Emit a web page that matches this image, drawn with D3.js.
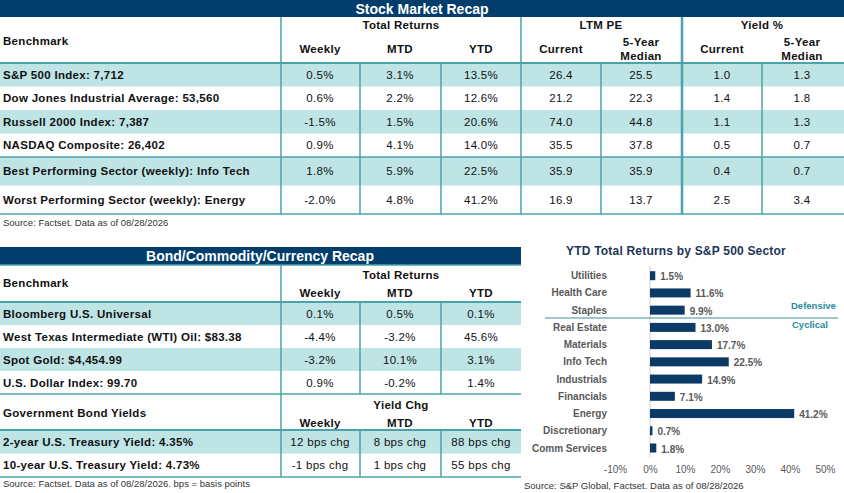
<!DOCTYPE html>
<html>
<head>
<meta charset="utf-8">
<script src="https://cdn.jsdelivr.net/npm/d3@7/dist/d3.min.js"></script>
<style>
  html, body { margin: 0; padding: 0; background: #fff; }
  svg { display: block; font-family: "Liberation Sans", Arial, sans-serif; }
</style>
</head>
<body>
<div id="chart"></div>
<script>
// ---- data: stock market recap ----
const stockNames = [
  "S&P 500 Index: 7,712",
  "Dow Jones Industrial Average: 53,560",
  "Russell 2000 Index: 7,387",
  "NASDAQ Composite: 26,402",
  "Best Performing Sector (weekly): Info Tech",
  "Worst Performing Sector (weekly): Energy"
];
const stockWeekly = ["0.5%", "0.6%", "-1.5%", "0.9%", "1.8%", "-2.0%"];
const stockMTD = ["3.1%", "2.2%", "1.5%", "4.1%", "5.9%", "4.8%"];
const stockYTD = ["13.5%", "12.6%", "20.6%", "14.0%", "22.5%", "41.2%"];
const peCurrent = ["26.4", "21.2", "74.0", "35.5", "35.9", "16.9"];
const peMedian = ["25.5", "22.3", "44.8", "37.8", "35.9", "13.7"];
const yieldCurrent = ["1.0", "1.4", "1.1", "0.5", "0.4", "2.5"];
const yieldMedian = ["1.3", "1.8", "1.3", "0.7", "0.7", "3.4"];

// ---- data: bond / commodity / currency ----
const bondNames = [
  "Bloomberg U.S. Universal",
  "West Texas Intermediate (WTI) Oil: $83.38",
  "Spot Gold: $4,454.99",
  "U.S. Dollar Index: 99.70"
];
const bondWeekly = ["0.1%", "-4.4%", "-3.2%", "0.9%"];
const bondMTD = ["0.5%", "-3.2%", "10.1%", "-0.2%"];
const bondYTD = ["0.1%", "45.6%", "3.1%", "1.4%"];

const govNames = ["2-year U.S. Treasury Yield: 4.35%", "10-year U.S. Treasury Yield: 4.73%"];
const govWeekly = ["12 bps chg", "-1 bps chg"];
const govMTD = ["8 bps chg", "1 bps chg"];
const govYTD = ["88 bps chg", "55 bps chg"];

// ---- data: sector bar chart ----
const sectors = ["Utilities", "Health Care", "Staples", "Real Estate", "Materials", "Info Tech",
  "Industrials", "Financials", "Energy", "Discretionary", "Comm Services"];
const sectorYTD = [1.5, 11.6, 9.9, 13.0, 17.7, 22.5, 14.9, 7.1, 41.2, 0.7, 1.8];
const axisTicks = [-10, 0, 10, 20, 30, 40, 50];

// ---- styles ----
const NAVY = "#023d6b";
const SHADE = "#bee4e6";
const TEAL = "#4aa3aa";
const TXT = "#111";
const LS = 0.3; // Excel-like loose letter spacing

const W = 844, H = 493;
const svg = d3.select("#chart").append("svg").attr("width", W).attr("height", H);

function hline(g, x1, x2, y, w) {
  g.append("line").attr("x1", x1).attr("x2", x2).attr("y1", y).attr("y2", y)
    .attr("stroke", TEAL).attr("stroke-width", w || 1);
}
function vline(g, x, y1, y2, w) {
  g.append("line").attr("x1", x).attr("x2", x).attr("y1", y1).attr("y2", y2)
    .attr("stroke", TEAL).attr("stroke-width", w || 1);
}
function txt(g, x, y, s, opt) {
  opt = opt || {};
  return g.append("text").attr("x", x).attr("y", y)
    .attr("dy", "0.35em")
    .attr("text-anchor", opt.anchor || "middle")
    .attr("font-size", opt.size || 11.5)
    .attr("font-weight", opt.bold ? "bold" : "normal")
    .attr("letter-spacing", opt.ls != null ? opt.ls : LS)
    .attr("fill", opt.fill || TXT)
    .text(s);
}

// draws data rows: names + value columns, rows laid out by a band scale
function drawRows(g, names, cols, colX, y0, y1, rowW) {
  const y = d3.scaleBand().domain(d3.range(names.length)).range([y0, y1]);
  g.selectAll(null).data(names).join("rect")
    .attr("x", 0).attr("width", rowW)
    .attr("y", (d, i) => y(i)).attr("height", y.bandwidth())
    .attr("fill", (d, i) => i % 2 === 0 ? SHADE : "none");
  g.selectAll(null).data(names).join("text")
    .attr("x", 3).attr("y", (d, i) => y(i) + y.bandwidth() / 2).attr("dy", "0.35em")
    .attr("font-size", 11.5).attr("font-weight", "bold").attr("fill", TXT)
    .attr("letter-spacing", LS)
    .text(d => d);
  cols.forEach((col, c) => {
    g.selectAll(null).data(col).join("text")
      .attr("x", colX[c]).attr("y", (d, i) => y(i) + y.bandwidth() / 2).attr("dy", "0.35em")
      .attr("text-anchor", "middle").attr("font-size", 11.5).attr("fill", TXT)
      .attr("letter-spacing", LS)
      .text(d => d);
  });
  return y;
}

// ================= Stock Market Recap =================
const stockG = svg.append("g");
const tableW = 844;
stockG.append("rect").attr("x", 0).attr("y", 0).attr("width", tableW).attr("height", 17).attr("fill", NAVY);
txt(stockG, 422, 9, "Stock Market Recap", { size: 14, bold: true, fill: "#fff", ls: 0 });

txt(stockG, 3, 41, "Benchmark", { anchor: "start", bold: true });
txt(stockG, 401, 25, "Total Returns", { bold: true });
txt(stockG, 601, 25, "LTM PE", { bold: true });
txt(stockG, 762, 25, "Yield %", { bold: true });
const stockColX = [320, 400, 481, 561, 641, 722, 802];
txt(stockG, stockColX[0], 49, "Weekly", { bold: true });
txt(stockG, stockColX[1], 49, "MTD", { bold: true });
txt(stockG, stockColX[2], 49, "YTD", { bold: true });
txt(stockG, stockColX[3], 49, "Current", { bold: true });
txt(stockG, stockColX[4], 42, "5-Year", { bold: true });
txt(stockG, stockColX[4], 56, "Median", { bold: true });
txt(stockG, stockColX[5], 49, "Current", { bold: true });
txt(stockG, stockColX[6], 42, "5-Year", { bold: true });
txt(stockG, stockColX[6], 56, "Median", { bold: true });

const stockCols = [stockWeekly, stockMTD, stockYTD, peCurrent, peMedian, yieldCurrent, yieldMedian];
// index rows, then the two taller sector rows
drawRows(stockG.append("g"), stockNames.slice(0, 4), stockCols.map(a => a.slice(0, 4)),
  stockColX, 63, 157, tableW);
drawRows(stockG.append("g"), stockNames.slice(4), stockCols.map(a => a.slice(4)),
  stockColX, 157, 214, tableW);

hline(stockG, 0, tableW, 63, 2);
hline(stockG, 0, tableW, 157, 1.5);
hline(stockG, 0, tableW, 214, 1.5);
[281, 521].forEach(x => vline(stockG, x, 17, 214, 1.5));
vline(stockG, 682, 17, 214, 2.5);
[360, 441, 601, 762].forEach(x => vline(stockG, x, 63, 214, 1.5));

txt(stockG, 3, 223, "Source: Factset. Data as of 08/28/2026", { anchor: "start", size: 9.5, fill: "#333", ls: 0 });

// ================= Bond/Commodity/Currency Recap =================
const bondG = svg.append("g");
const bW = 521;
bondG.append("rect").attr("x", 0).attr("y", 247).attr("width", bW).attr("height", 18).attr("fill", NAVY);
txt(bondG, 260, 256, "Bond/Commodity/Currency Recap", { size: 14, bold: true, fill: "#fff", ls: 0 });
hline(bondG, 0, bW, 265, 1.5);

const bondColX = [320, 400, 481];
txt(bondG, 3, 283, "Benchmark", { anchor: "start", bold: true });
txt(bondG, 401, 275, "Total Returns", { bold: true });
txt(bondG, bondColX[0], 293, "Weekly", { bold: true });
txt(bondG, bondColX[1], 293, "MTD", { bold: true });
txt(bondG, bondColX[2], 293, "YTD", { bold: true });

drawRows(bondG.append("g"), bondNames, [bondWeekly, bondMTD, bondYTD], bondColX, 302, 394, bW);

txt(bondG, 3, 413, "Government Bond Yields", { anchor: "start", bold: true });
txt(bondG, 401, 405, "Yield Chg", { bold: true });
txt(bondG, bondColX[0], 423, "Weekly", { bold: true });
txt(bondG, bondColX[1], 423, "MTD", { bold: true });
txt(bondG, bondColX[2], 423, "YTD", { bold: true });

drawRows(bondG.append("g"), govNames, [govWeekly, govMTD, govYTD], bondColX, 430, 477, bW);

hline(bondG, 0, bW, 302, 2);
hline(bondG, 0, bW, 394, 1.5);
hline(bondG, 0, bW, 430, 2);
hline(bondG, 0, bW, 477, 1.5);
vline(bondG, 281, 265, 477, 1.5);
[360, 441].forEach(x => { vline(bondG, x, 302, 394, 1.5); vline(bondG, x, 430, 477, 1.5); });

txt(bondG, 3, 484, "Source: Factset. Data as of 08/28/2026. bps = basis points", { anchor: "start", size: 9.5, fill: "#333", ls: 0 });

// ================= Sector bar chart =================
const ch = svg.append("g");
const x = d3.scaleLinear().domain([-10, 50]).range([615, 825]);
const y = d3.scalePoint().domain(sectors).range([275.7, 448]);
const barH = 9;

txt(ch, 676, 251, "YTD Total Returns by S&P 500 Sector", { size: 12, bold: true, fill: "#1c3557", ls: 0.2 });

ch.append("line").attr("x1", x(0)).attr("x2", x(0)).attr("y1", 266).attr("y2", 457)
  .attr("stroke", "#d0d0d0").attr("stroke-width", 1);

ch.selectAll("rect.bar").data(sectors).join("rect").attr("class", "bar")
  .attr("x", x(0)).attr("y", d => y(d) - barH / 2)
  .attr("width", (d, i) => x(sectorYTD[i]) - x(0)).attr("height", barH)
  .attr("fill", "#0b3a66");

ch.selectAll("text.lab").data(sectors).join("text").attr("class", "lab")
  .attr("x", 607).attr("y", d => y(d)).attr("dy", "0.35em")
  .attr("text-anchor", "end").attr("font-size", 10).attr("font-weight", "bold")
  .attr("fill", "#595959").text(d => d);

ch.selectAll("text.val").data(sectors).join("text").attr("class", "val")
  .attr("x", (d, i) => x(sectorYTD[i]) + 5).attr("y", d => y(d) + 1).attr("dy", "0.35em")
  .attr("font-size", 10).attr("font-weight", "bold").attr("fill", "#595959")
  .text((d, i) => d3.format(".1f")(sectorYTD[i]) + "%");

const ax = ch.append("g").attr("transform", "translate(0,463)")
  .call(d3.axisBottom(x).tickValues(axisTicks).tickFormat(d => d + "%").tickSize(0));
ax.select(".domain").remove();
ax.selectAll("text").attr("font-size", 10).attr("font-family", "Liberation Sans, Arial, sans-serif")
  .attr("fill", "#595959");

// defensive / cyclical divider
ch.append("line").attr("x1", 545).attr("x2", 838).attr("y1", 318).attr("y2", 318)
  .attr("stroke", "#3f8f97").attr("stroke-width", 1);
txt(ch, 791, 306, "Defensive", { anchor: "start", size: 9.5, bold: true, fill: "#2a8a99", ls: 0 });
txt(ch, 792, 325, "Cyclical", { anchor: "start", size: 9.5, bold: true, fill: "#2a8a99", ls: 0 });

txt(ch, 524, 486, "Source: S&P Global, Factset. Data as of 08/28/2026", { anchor: "start", size: 9.5, fill: "#333", ls: 0 });
</script>
</body>
</html>
